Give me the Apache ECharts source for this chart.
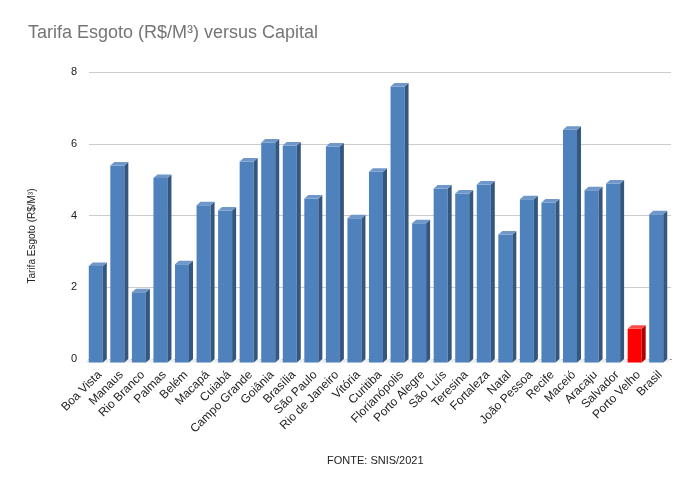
<!DOCTYPE html>
<html>
<head>
<meta charset="utf-8">
<script src="https://cdn.jsdelivr.net/npm/echarts@6/dist/echarts.min.js"></script>
<style>html,body{margin:0;padding:0;background:#fff}#c{width:697px;height:493px}</style>
</head>
<body>
<div id="c"></div>
<script>
const categories = ['Boa Vista','Manaus','Rio Branco','Palmas','Belém','Macapá','Cuiabá','Campo Grande','Goiânia','Brasília','São Paulo','Rio de Janeiro','Vitória','Curitiba','Florianópolis','Porto Alegre','São Luís','Teresina','Fortaleza','Natal','João Pessoa','Recife','Maceió','Aracaju','Salvador','Porto Velho','Brasil'];
const values = [2.69,5.49,1.96,5.14,2.74,4.38,4.24,5.60,6.13,6.05,4.57,6.02,4.02,5.32,7.69,3.88,4.85,4.71,4.96,3.57,4.55,4.46,6.49,4.80,4.99,0.94,4.13];
const highlighted = ['Porto Velho'];
const yTicks = [0,2,4,6,8];

const blue = {front:'#4f81bd', side:'#34577f', top:'#7097ca'};
const red = {front:'#ff0000', side:'#b00000', top:'#ff4a4a'};

function renderItem(params, api){
  const i = api.value(0), v = api.value(1);
  const top = api.coord([i, v]);
  const base = api.coord([i, 0]);
  const band = api.size([1,0])[0];
  const w = band*0.65, dx = 4, dy = 3.5;
  const cx = top[0];
  const x0 = cx - w/2 - dx, x1 = cx + w/2 - dx;
  const ft = top[1] + dy, fb = base[1] + dy;
  const c = highlighted.indexOf(categories[i]) >= 0 ? red : blue;
  return {type:'group', children:[
    {type:'polygon', z2:0, shape:{points:[[cx-band/2, base[1]],[cx+band/2, base[1]],[cx+band/2-dx, base[1]+dy],[cx-band/2-dx, base[1]+dy]]}, style:{fill:'#ececec'}},
    {type:'rect', z2:10, shape:{x:x0, y:ft, width:w, height:fb-ft}, style:{fill:c.front}},
    {type:'polygon', z2:10, shape:{points:[[x1,ft],[x1+dx,ft-dy],[x1+dx,fb-dy],[x1,fb]]}, style:{fill:c.side}},
    {type:'polygon', z2:10, shape:{points:[[x0,ft],[x1,ft],[x1+dx,ft-dy],[x0+dx,ft-dy]]}, style:{fill:c.top}}
  ]};
}

const chart = echarts.init(document.getElementById('c'), null, {renderer:'canvas'});
chart.setOption({
  animation:false,
  backgroundColor:'#fff',
  textStyle:{fontFamily:'Liberation Sans, Arial, sans-serif'},
  title:{text:'Tarifa Esgoto (R$/M³) versus Capital', left:28, top:24, padding:0,
    textStyle:{fontSize:18, fontWeight:'normal', color:'#757575', fontFamily:'Liberation Sans, Arial, sans-serif'}},
  grid:{left:89, right:26, top:72, bottom:134},
  xAxis:{type:'category', data:categories, boundaryGap:true,
    axisLine:{lineStyle:{color:'#333', width:1}}, axisTick:{show:false},
    axisLabel:{interval:0, rotate:45, fontSize:12, color:'#222', margin:14, fontFamily:'Liberation Sans, Arial, sans-serif'}},
  yAxis:{type:'value', min:yTicks[0], max:yTicks[yTicks.length-1], interval:2,
    axisLine:{show:false}, axisTick:{show:false},
    splitLine:{lineStyle:{color:'#cccccc'}},
    axisLabel:{fontSize:11, color:'#222', margin:12, fontFamily:'Liberation Sans, Arial, sans-serif'}},
  graphic:[
    {type:'text', left:327, top:455, style:{text:'FONTE: SNIS/2021', fontSize:11, fill:'#222', fontFamily:'Liberation Sans, Arial, sans-serif'}},
    {type:'text', x:32, y:236, rotation:Math.PI/2, style:{text:'Tarifa Esgoto (R$/M³)', fontSize:10, fill:'#222', align:'center', verticalAlign:'middle', fontFamily:'Liberation Sans, Arial, sans-serif'}}
  ],
  series:[{type:'custom', renderItem:renderItem, encode:{x:0, y:1},
    data: values.map((v,i)=>[i,v])}]
});
</script>
</body>
</html>
